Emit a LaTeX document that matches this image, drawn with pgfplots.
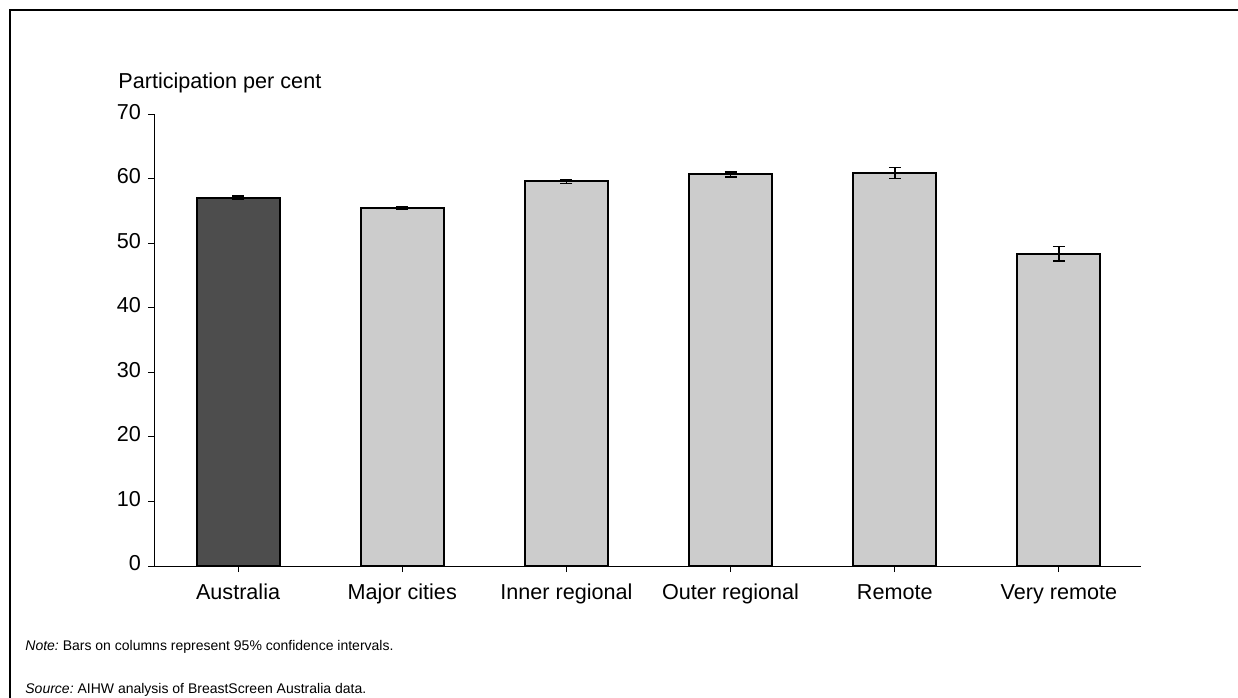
\documentclass[border=0pt]{standalone}
\usepackage{fontspec}
\setmainfont{Liberation Sans}
\usepackage{pgfplots}
\pgfplotsset{compat=1.18}
\definecolor{darkbar}{HTML}{4D4D4D}
\definecolor{lightbar}{HTML}{CCCCCC}
\begin{document}
\begin{tikzpicture}
\useasboundingbox (0pt,0pt) rectangle (619pt,348.5pt);
\draw[line width=1pt] (5pt,-10pt) -- (5pt,343.5pt) -- (625pt,343.5pt);
\node[anchor=base west, inner sep=0pt, font=\fontsize{10.8}{12}\selectfont] at (59pt,304pt) {Participation per cent};
\node[anchor=west, inner sep=0pt, font=\fontsize{7}{9}\selectfont] at (12.5pt,25pt) {\textit{Note:}\hspace{0.28em}Bars on columns represent 95\% confidence intervals.};
\node[anchor=west, inner sep=0pt, font=\fontsize{7}{9}\selectfont] at (12.5pt,3.5pt) {\textit{Source:}\hspace{0.28em}AIHW analysis of BreastScreen Australia data.};
\begin{axis}[
  at={(77pt,65.5pt)}, anchor=south west, scale only axis,
  width=493.5pt, height=225.85pt,
  xmin=-0.512, xmax=5.5, ymin=0, ymax=70,
  axis lines=left, axis line style={-, line width=0.5pt},
  ytick={0,10,...,70}, xtick={0,...,5},
  xticklabels={Australia, Major cities, Inner regional, Outer regional, Remote, Very remote},
  typeset ticklabels with strut,
  xticklabel style={yshift=-2pt},
  tick align=outside, major tick length=3pt,
  tick style={black, line width=0.5pt},
  ticklabel style={font=\fontsize{10.8}{12}\selectfont},
  /pgf/number format/assume math mode=true,
  ybar, bar width=41.5pt, bar shift=0pt, clip=false,
]
\addplot[fill=darkbar, draw=black, line width=1pt,
  error bars/.cd, y dir=both, y explicit,
  error bar style={line width=0.8pt},
  error mark options={rotate=90, mark size=3pt, line width=0.8pt}]
  coordinates {(0,57.1) +- (0,0.2)};
\addplot[fill=lightbar, draw=black, line width=1pt,
  error bars/.cd, y dir=both, y explicit,
  error bar style={line width=0.8pt},
  error mark options={rotate=90, mark size=3pt, line width=0.8pt}]
  coordinates {(1,55.5) +- (0,0.2) (2,59.6) +- (0,0.3) (3,60.7) +- (0,0.4) (4,60.9) +- (0,0.85) (5,48.4) +- (0,1.1)};
\end{axis}
\end{tikzpicture}
\end{document}
